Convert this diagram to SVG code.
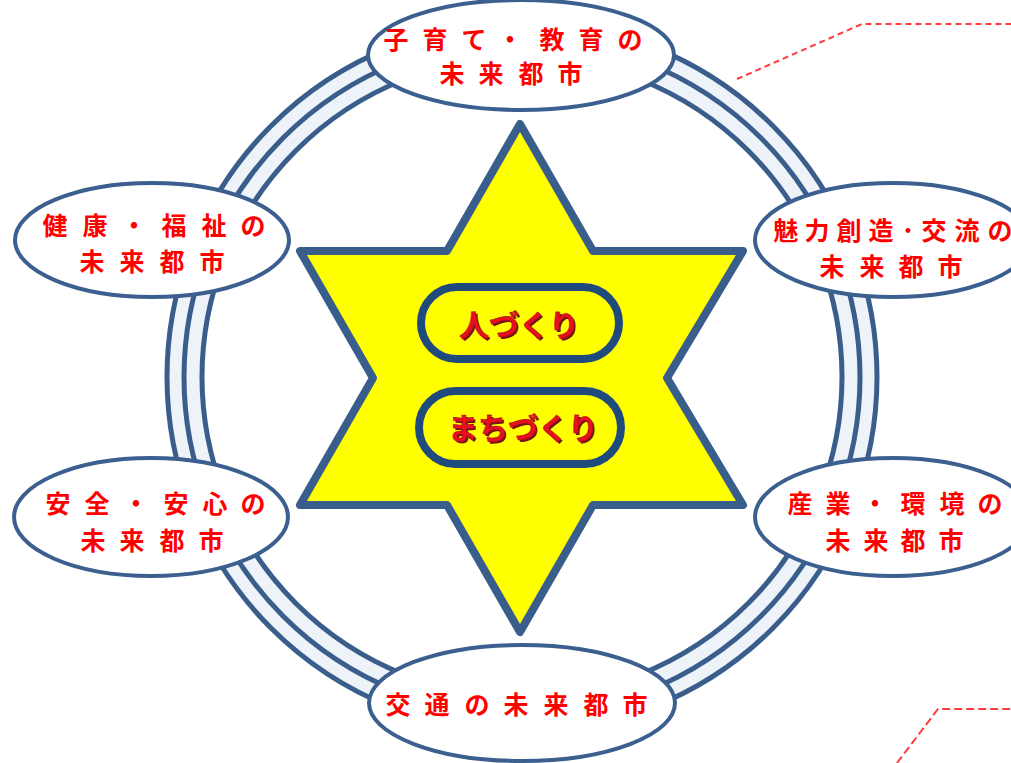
<svg xmlns="http://www.w3.org/2000/svg" width="1011" height="763" viewBox="0 0 1011 763">
  <style>
    .ring { stroke: #3a5e8c; stroke-width: 5; }
    .ell { fill: #ffffff; stroke: #3b5f8e; stroke-width: 4; }
    .lbl { font-family: "Noto Sans CJK JP", "Noto Sans", sans-serif; font-size: 25px; fill: #ff0000; text-anchor: middle; font-weight: bold; }
    .cap { fill: none; stroke: #1f4a7c; stroke-width: 8; }
    .core { font-family: "Noto Sans CJK JP", "Noto Sans", sans-serif; font-size: 30px; font-weight: bold; text-anchor: middle; }
    .shadow { fill: #7a1018; }
    .front { fill: #e8101e; stroke: #b0101a; stroke-width: 0.6; }
    .dash { fill: none; stroke: #ff3b3b; stroke-width: 2; stroke-dasharray: 6 4; }
  </style>
  <rect width="1011" height="763" fill="#ffffff"/>

  <g id="ring">
    <circle cx="522" cy="377" r="355" fill="#eef2f9" class="ring"/>
    <circle cx="522" cy="377" r="338" fill="none" class="ring"/>
    <circle cx="522" cy="377" r="320" fill="#ffffff" class="ring"/>
  </g>

  <g id="connectors">
    <polyline class="dash" points="737,79 862,24 1011,24"/>
    <polyline class="dash" points="897,763 938,709 1011,709" style="stroke-dasharray: 8 4"/>
  </g>

  <g id="star">
    <polygon points="520,124 593,251 743,251 667,378 743,505 593,505 520,632 447,505 300,505 373,378 300,251 447,251" fill="#ffff00" stroke="#3a5e8c" stroke-width="8" stroke-linejoin="round"/>
  </g>

  <g id="node-top">
    <ellipse cx="521" cy="55" rx="153" ry="55" class="ell"/>
    <text class="lbl" x="396 435 474 510 552 591 630" y="49">子育て・教育の</text>
    <text class="lbl" x="452 491 531 570" y="83">未来都市</text>
  </g>

  <g id="node-left-upper">
    <ellipse cx="152" cy="240" rx="137" ry="57" class="ell"/>
    <text class="lbl" x="55 95 134 174 214 253" y="235">健康・福祉の</text>
    <text class="lbl" x="92 132 172 212" y="271">未来都市</text>
  </g>

  <g id="node-right-upper">
    <ellipse cx="893" cy="240" rx="138" ry="57" class="ell"/>
    <text class="lbl" x="786 817 849 881 908 934 967 1000" y="240">魅力創造･交流の</text>
    <text class="lbl" x="832 872 911 950" y="276">未来都市</text>
  </g>

  <g id="node-left-lower">
    <ellipse cx="151" cy="517" rx="137" ry="59" class="ell"/>
    <text class="lbl" x="58 97 136 176 215 253" y="513">安全・安心の</text>
    <text class="lbl" x="93 132 172 211" y="550">未来都市</text>
  </g>

  <g id="node-right-lower">
    <ellipse cx="893" cy="517" rx="138" ry="59" class="ell"/>
    <text class="lbl" x="800 838 875 913 952 990" y="513">産業・環境の</text>
    <text class="lbl" x="838 876 913 951" y="550">未来都市</text>
  </g>

  <g id="node-bottom">
    <ellipse cx="522" cy="703" rx="153" ry="58" class="ell"/>
    <text class="lbl" x="398 437 477 516 556 596 635" y="714">交通の未来都市</text>
  </g>

  <g id="node-hitozukuri">
    <rect x="421" y="287" width="198" height="72" rx="36" class="cap"/>
    <text class="core shadow" x="521" y="338">人づくり</text>
    <text class="core front" x="519" y="336">人づくり</text>
  </g>

  <g id="node-machizukuri">
    <rect x="419" y="391" width="202" height="73" rx="36.5" class="cap"/>
    <text class="core shadow" x="525" y="441">まちづくり</text>
    <text class="core front" x="523" y="439">まちづくり</text>
  </g>
</svg>
